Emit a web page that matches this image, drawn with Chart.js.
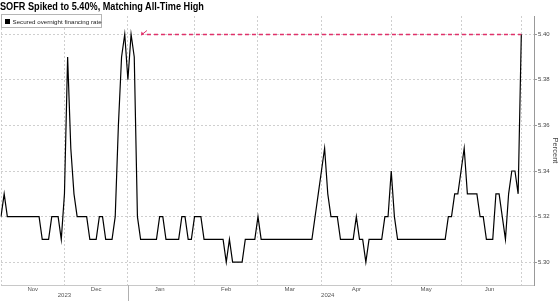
<!DOCTYPE html>
<html>
<head>
<meta charset="utf-8">
<script src="https://cdn.jsdelivr.net/npm/chart.js@4.4.1/dist/chart.umd.min.js"></script>
<style>
  body { margin: 0; background: #fff; }
  #wrap { position: relative; width: 560px; height: 301px; overflow: hidden; }
  #title { position: absolute; left: 0; top: 1px; font: bold 10px 'Liberation Sans', Arial, sans-serif; color: #000;
           white-space: nowrap; transform: scaleX(0.915); transform-origin: left top; }
  #legend { position: absolute; left: 1px; top: 14px; width: 99px; height: 12px; border: 1px solid #b5b5b5; background: #fff;
            font: 6.2px 'Liberation Sans', Arial, sans-serif; color: #222; white-space: nowrap; }
  #legend i { position: absolute; left: 3px; top: 3.5px; width: 5px; height: 5px; background: #000; }
  #legend span { position: absolute; left: 10.5px; top: 2.5px; }
</style>
</head>
<body>
<div id="wrap">
  <canvas id="myChart" width="560" height="301"></canvas>
  <div id="title">SOFR Spiked to 5.40%, Matching All-Time High</div>
  <div id="legend"><i></i><span>Secured overnight financing rate</span></div>
</div>
<script>
// SOFR, percent, one value per business day
const novRates = [5.32, 5.33, 5.32, 5.32, 5.32, 5.32, 5.32, 5.32, 5.32, 5.32, 5.32, 5.32, 5.32, 5.31, 5.31, 5.31, 5.32, 5.32, 5.32, 5.31];
const decRates = [5.33, 5.39, 5.35, 5.33, 5.32, 5.32, 5.32, 5.32, 5.31, 5.31, 5.31, 5.32, 5.32, 5.31, 5.31, 5.31, 5.32, 5.36, 5.39, 5.40];
const janRates = [5.38, 5.40, 5.39, 5.32, 5.31, 5.31, 5.31, 5.31, 5.31, 5.31, 5.32, 5.32, 5.31, 5.31, 5.31, 5.31, 5.31, 5.32, 5.32, 5.31, 5.31];
const febRates = [5.32, 5.32, 5.32, 5.31, 5.31, 5.31, 5.31, 5.31, 5.31, 5.31, 5.30, 5.31, 5.30, 5.30, 5.30, 5.30, 5.31, 5.31, 5.31, 5.31];
const marRates = [5.32, 5.31, 5.31, 5.31, 5.31, 5.31, 5.31, 5.31, 5.31, 5.31, 5.31, 5.31, 5.31, 5.31, 5.31, 5.31, 5.31, 5.31, 5.32, 5.33];
const aprRates = [5.34, 5.35, 5.33, 5.32, 5.32, 5.32, 5.31, 5.31, 5.31, 5.31, 5.31, 5.32, 5.31, 5.31, 5.30, 5.31, 5.31, 5.31, 5.31, 5.31, 5.32, 5.32];
const mayRates = [5.34, 5.32, 5.31, 5.31, 5.31, 5.31, 5.31, 5.31, 5.31, 5.31, 5.31, 5.31, 5.31, 5.31, 5.31, 5.31, 5.31, 5.31, 5.32, 5.32, 5.33, 5.33];
const junRates = [5.34, 5.35, 5.33, 5.33, 5.33, 5.33, 5.32, 5.32, 5.31, 5.31, 5.31, 5.33, 5.33, 5.32, 5.31, 5.33, 5.34, 5.34, 5.33];
const julRates = [5.40];

const monthNames = ['Nov', 'Dec', 'Jan', 'Feb', 'Mar', 'Apr', 'May', 'Jun'];
const yearNames = ['2023', '2024'];
const yTicks = [5.30, 5.32, 5.34, 5.36, 5.38, 5.40];

// record level line (dashed) from / to
const athLevel = 5.40;
const athFrom = '2024-01-10';
const athTo = '2024-07-01';

const holidays = ['2023-11-10', '2023-11-23', '2023-12-25', '2024-01-01', '2024-01-15', '2024-02-19',
                  '2024-03-29', '2024-05-27', '2024-06-19', '2024-07-04'];

function businessDays(from, to) {
    let out = [];
    let d = new Date(from + 'T00:00:00Z');
    const end = new Date(to + 'T00:00:00Z');
    while (d <= end) {
        const s = d.toISOString().slice(0, 10);
        const wd = d.getUTCDay();
        if (wd != 0 && wd != 6 && !holidays.includes(s)) out.push(s);
        d.setUTCDate(d.getUTCDate() + 1);
    }
    return out;
}

const labels = businessDays('2023-11-01', '2024-07-08');
const rates = [].concat(novRates, decRates, janRates, febRates, marRates, aprRates, mayRates, junRates, julRates);

// month starts, month middles, year middles
let monthStarts = [];
for (let i = 0; i < labels.length; i++) {
    if (i == 0 || labels[i].slice(0, 7) != labels[i - 1].slice(0, 7)) monthStarts.push(i);
}
let tickText = labels.map(() => '');
for (let m = 0; m < monthNames.length; m++) {
    const a = monthStarts[m], b = monthStarts[m + 1];
    tickText[a + Math.floor((b - a) / 2)] = monthNames[m];
}
const yearStart = labels.findIndex(l => l.startsWith('2024'));
tickText[Math.floor(yearStart / 2)] = ['', yearNames[0]];
tickText[Math.floor((yearStart + labels.length - 1) / 2) - 1] = ['', yearNames[1]];

const FONT = "'Liberation Sans', Arial, sans-serif";

const extras = {
    id: 'extras',
    afterDatasetsDraw(chart) {
        const { ctx, scales, chartArea } = chart;
        const x = scales.x, y = scales.y;
        const yy = Math.round(y.getPixelForValue(athLevel)) + 0.5;
        const x1 = x.getPixelForValue(labels.indexOf(athFrom));
        const x2 = x.getPixelForValue(labels.indexOf(athTo));
        ctx.save();
        ctx.strokeStyle = '#e0306a';
        ctx.lineWidth = 1.5;
        ctx.setLineDash([4, 3]);
        ctx.beginPath();
        ctx.moveTo(x1, yy);
        ctx.lineTo(x2, yy);
        ctx.stroke();
        // little arrow pointing back at the earlier high
        ctx.setLineDash([]);
        ctx.lineWidth = 1;
        ctx.beginPath();
        ctx.moveTo(x1, yy - 4);
        ctx.lineTo(x1 - 5, yy);
        ctx.stroke();
        ctx.fillStyle = '#e0306a';
        ctx.beginPath();
        ctx.moveTo(x1 - 6, yy + 1);
        ctx.lineTo(x1 - 5.5, yy - 3);
        ctx.lineTo(x1 - 2.5, yy);
        ctx.closePath();
        ctx.fill();
        // year divider tick
        const xd = Math.round(x.getPixelForValue(yearStart)) + 0.5;
        ctx.strokeStyle = '#b0b0b0';
        ctx.beginPath();
        ctx.moveTo(xd, chartArea.bottom);
        ctx.lineTo(xd, chart.height);
        ctx.stroke();
        ctx.restore();
    }
};

const config = {
    type: 'line',
    data: {
        labels: labels,
        datasets: [{
            label: 'Secured overnight financing rate',
            data: rates,
            borderColor: '#000',
            borderWidth: 1.2,
            pointRadius: 0,
            tension: 0
        }]
    },
    options: {
        responsive: false,
        animation: false,
        devicePixelRatio: 1,
        layout: { padding: { top: 16, left: 0, right: 0, bottom: 0 } },
        plugins: { legend: { display: false }, title: { display: false }, tooltip: { enabled: false } },
        scales: {
            x: {
                type: 'category',
                offset: false,
                grid: {
                    color: (c) => monthStarts.includes(c.index) ? '#cfcfcf' : 'rgba(0,0,0,0)',
                    drawTicks: false
                },
                border: { display: true, color: '#c8c8c8', dash: [2, 2] },
                ticks: {
                    autoSkip: false,
                    maxRotation: 0,
                    minRotation: 0,
                    padding: 1,
                    color: '#555',
                    font: { size: 6, family: FONT, lineHeight: 1.05 },
                    callback: (v, i) => tickText[i]
                },
                afterFit: (s) => { s.height = 16; }
            },
            y: {
                position: 'right',
                min: 5.29,
                max: 5.408,
                afterBuildTicks: (s) => { s.ticks = yTicks.map(v => ({ value: v })); },
                grid: { color: '#cfcfcf', tickLength: 3, tickColor: '#999' },
                border: { display: true, color: '#999', dash: [2, 2] },
                ticks: {
                    padding: 1,
                    color: '#444',
                    font: { size: 6, family: FONT },
                    callback: (v) => v.toFixed(2)
                },
                title: { display: true, text: 'Percent', color: '#444', font: { size: 7.5, family: FONT }, padding: 0 },
                afterFit: (s) => { s.width = 26; }
            }
        }
    },
    plugins: [extras]
};

new Chart(document.getElementById('myChart'), config);
</script>
</body>
</html>
